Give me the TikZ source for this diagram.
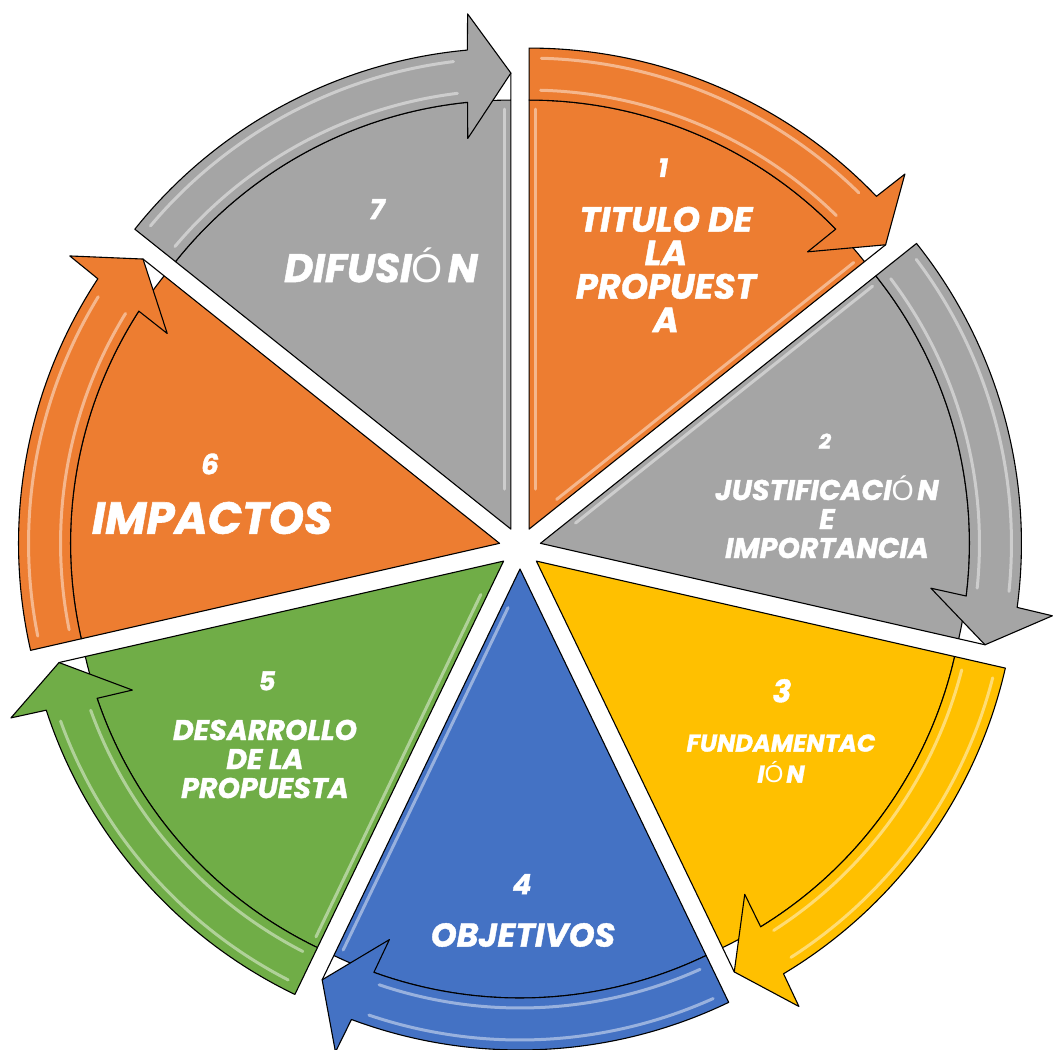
\documentclass[tikz,border=0pt]{standalone}
\usepackage{fontspec}
\setmainfont{Poppins}[BoldItalicFeatures={FakeBold=1.2}]
\newfontfamily\thinfont{Liberation Sans}
\usetikzlibrary{positioning}

\definecolor{cOrange}{HTML}{ED7D31}
\definecolor{cGray}{HTML}{A5A5A5}
\definecolor{cYellow}{HTML}{FFC000}
\definecolor{cBlue}{HTML}{4472C4}
\definecolor{cGreen}{HTML}{70AD47}

\newcommand{\thinO}{\smash{\thinfont\mdseries\upshape Ó}\hspace{0.12em}}

\tikzset{piece/.style={fill=#1, draw=black, line width=1.1pt, line join=round},
num/.style={text=white, inner sep=0pt, font=\fontsize{#1}{#1}\selectfont\bfseries\itshape},
txt/.style 2 args={text=white, inner sep=0pt, align=center, font=\fontsize{#1}{#2}\selectfont\bfseries\itshape}}

% one slice of the cycle: start angle, end angle, colour
\newcommand{\cyclepiece}[3]{%
\begin{scope}[shift={({(#1+#2)/2}:21)}]
\path[piece=#3] (0,0) -- (#1:429) arc[start angle=#1, end angle=#2, radius=429] -- (#2:456) -- cycle;
\path[piece=#3] (#1:429) -- (#1:481) arc[start angle=#1, end angle={#2+5.2}, radius=481]
	-- ({#2+4.8}:517) -- (#2:456) -- ({#2+6.3}:393) -- ({#2+5.8}:429)
	arc[start angle={#2+5.8}, end angle=#1, radius=429] -- cycle;
\draw[gloss] ({#1-1.5}:439) arc[start angle={#1-1.5}, end angle={#2+7}, radius=439];
\draw[gloss] ({#1-1.5}:471) arc[start angle={#1-1.5}, end angle={#2+7}, radius=471];
\end{scope}}

\begin{document}
\begin{tikzpicture}[x=1pt, y=1pt, gloss/.style={draw=white, line width=3pt, opacity=0.45, line cap=round}]
\useasboundingbox (-520,-502) rectangle (533,548);

\cyclepiece{90}{38.571}{cOrange}
\cyclepiece{38.571}{-12.857}{cGray}
\cyclepiece{347.143}{295.714}{cYellow}
\cyclepiece{295.714}{244.286}{cBlue}
\cyclepiece{244.286}{192.857}{cGreen}
\cyclepiece{192.857}{141.429}{cOrange}
\cyclepiece{141.429}{90}{cGray}

% light edges along some gaps
\begin{scope}[shift={(64.286:21)}]
\draw[gloss, shift={(0:6)}] (90:40) -- (90:420);
\draw[gloss, shift={(128.571:6)}] (38.571:40) -- (38.571:420);
\end{scope}
\draw[gloss, shift={(12.857:21)}, shift={(-51.429:6)}] (38.571:40) -- (38.571:420);
\draw[gloss, shift={(115.714:21)}, shift={(180:6)}] (90:40) -- (90:420);
\draw[gloss, shift={(270:21)}, shift={(334.286:6)}] (244.286:40) -- (244.286:420);
\draw[gloss, shift={(218.571:21)}, shift={(154.286:6)}] (244.286:40) -- (244.286:420);

\node[txt={35}{33.5}] (titulo) at (146,278.5) {TITULO DE\\LA\\PROPUEST\\A};
\node[num=26, above=29.5pt of titulo, xshift=-3pt] (n1) {1};
\node[txt={28.5}{29}] (justificacion) at (307,29) {JUSTIFICACI\thinO N\\E\\IMPORTANCIA};
\node[num=21, above=30.5pt of justificacion, xshift=-2pt] (n2) {2};
\node[txt={24.3}{31}] (fundamentacion) at (261,-210.5) {FUNDAMENTAC\\I\thinO N};
\node[num=31, above=31.5pt of fundamentacion, xshift=1pt] (n3) {3};
\node[txt={33}{33}] (objetivos) at (3,-387) {OBJETIVOS};
\node[num=28, above=28.5pt of objetivos, xshift=-1pt] (n4) {4};
\node[txt={28.5}{29}] (desarrollo) at (-255,-211) {DESARROLLO\\DE LA\\PROPUESTA};
\node[num=26, above=29pt of desarrollo, xshift=2pt] (n5) {5};
\node[txt={45}{45}] (impactos) at (-308,30) {IMPACTOS};
\node[num=28, above=27pt of impactos, xshift=-2pt] (n6) {6};
\node[txt={40}{40}] (difusion) at (-139,280) {DIFUSI\thinO N};
\node[num=28, above=34pt of difusion, xshift=-4pt] (n7) {7};
\end{tikzpicture}
\end{document}
